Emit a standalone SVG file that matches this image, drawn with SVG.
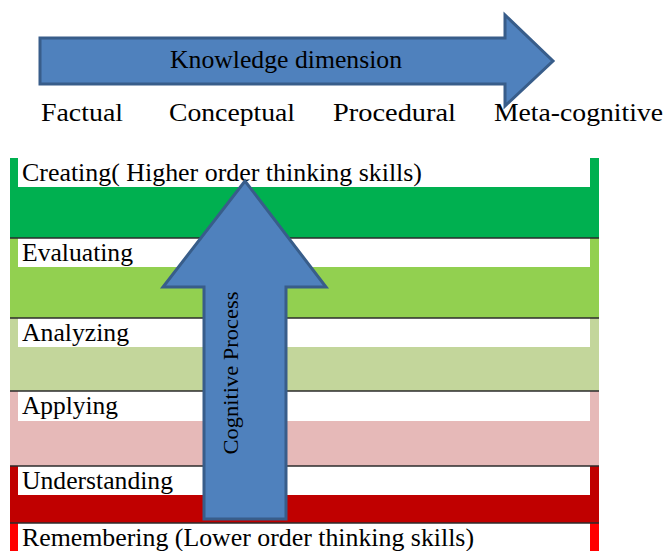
<svg xmlns="http://www.w3.org/2000/svg" width="666" height="551" viewBox="0 0 666 551">
<style>
text{font-family:"Liberation Serif","Times New Roman",serif;fill:#000}
.lbl{font-size:26px}
.row{font-size:25px}
.box{fill:#fff}
.sep{stroke:#2b2b2b;stroke-width:1.5}
.arrow{fill:#4F81BD;stroke:#385D8A;stroke-width:3;stroke-linejoin:miter}
</style>
<rect width="666" height="551" fill="#fff"/>
<g id="knowledge-arrow">
<path class="arrow" d="M40,38 H505 V15 L553,61 L505,106 V84 H40 Z"/>
<text x="170" y="68" font-size="25" textLength="232" lengthAdjust="spacingAndGlyphs">Knowledge dimension</text>
</g>
<g id="knowledge-labels">
<text class="lbl" x="41" y="121" textLength="82" lengthAdjust="spacingAndGlyphs">Factual</text>
<text class="lbl" x="169" y="121" textLength="126" lengthAdjust="spacingAndGlyphs">Conceptual</text>
<text class="lbl" x="333" y="121" textLength="123" lengthAdjust="spacingAndGlyphs">Procedural</text>
<text class="lbl" x="494" y="121" textLength="169" lengthAdjust="spacingAndGlyphs">Meta-cognitive</text>
</g>
<g id="creating">
<rect x="10" y="158" width="589" height="80" fill="#00B050"/>
<rect class="box" x="18" y="158" width="572" height="29"/>
<text class="row" x="22" y="181" textLength="400" lengthAdjust="spacingAndGlyphs">Creating( Higher order thinking skills)</text>
</g>
<g id="evaluating">
<rect x="10" y="238" width="589" height="80" fill="#92D050"/>
<rect class="box" x="18" y="238" width="572" height="29"/>
<line class="sep" x1="10" y1="238" x2="599" y2="238"/>
<text class="row" x="22" y="261" textLength="111" lengthAdjust="spacingAndGlyphs">Evaluating</text>
</g>
<g id="analyzing">
<rect x="10" y="318" width="589" height="73" fill="#C3D69B"/>
<rect class="box" x="18" y="318" width="572" height="29"/>
<line class="sep" x1="10" y1="318" x2="599" y2="318"/>
<text class="row" x="22" y="341" textLength="107" lengthAdjust="spacingAndGlyphs">Analyzing</text>
</g>
<g id="applying">
<rect x="10" y="391" width="589" height="75" fill="#E6B9B8"/>
<rect class="box" x="18" y="391" width="572" height="30"/>
<line class="sep" x1="10" y1="391" x2="599" y2="391"/>
<text class="row" x="22" y="414" textLength="96" lengthAdjust="spacingAndGlyphs">Applying</text>
</g>
<g id="understanding">
<rect x="10" y="466" width="589" height="57" fill="#C00000"/>
<rect class="box" x="18" y="466" width="572" height="29"/>
<line class="sep" x1="10" y1="466" x2="599" y2="466"/>
<text class="row" x="22" y="489" textLength="151" lengthAdjust="spacingAndGlyphs">Understanding</text>
</g>
<g id="remembering">
<rect x="10" y="523" width="589" height="28" fill="#FF0000"/>
<rect class="box" x="18" y="523" width="572" height="28"/>
<line class="sep" x1="10" y1="523" x2="599" y2="523"/>
<text class="row" x="22" y="546" textLength="452" lengthAdjust="spacingAndGlyphs">Remembering (Lower order thinking skills)</text>
</g>
<g id="connectors">
<g id="cognitive-arrow">
<path class="arrow" d="M204,519 V287 H163 L245,181 L326,287 H286 V519 Z"/>
<text transform="translate(238,373) rotate(-90)" text-anchor="middle" font-size="22" textLength="163" lengthAdjust="spacingAndGlyphs">Cognitive Process</text>
</g>
</g>
</svg>
